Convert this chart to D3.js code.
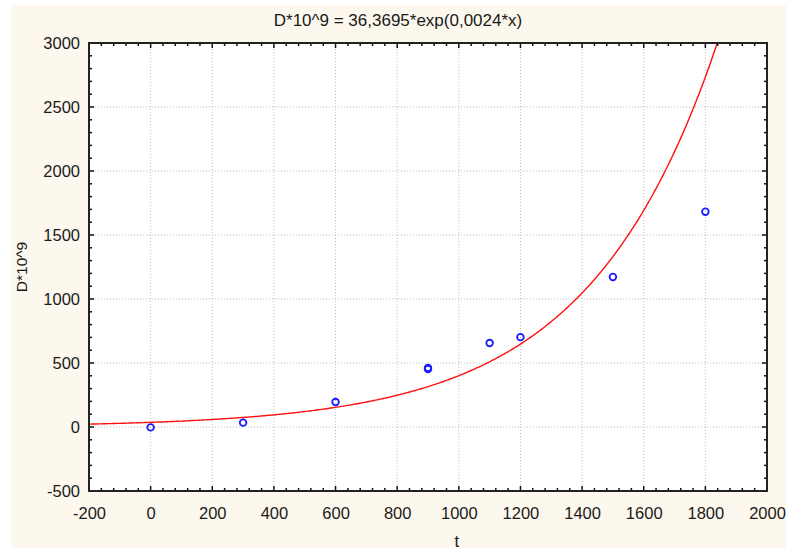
<!DOCTYPE html>
<html>
<head>
<meta charset="utf-8">
<script src="https://cdn.jsdelivr.net/npm/d3@7"></script>
<style>
  html, body { margin: 0; padding: 0; background: #ffffff; }
  svg { display: block; font-family: "Liberation Sans", Arial, sans-serif; }
</style>
</head>
<body>
<div id="chart"></div>
<script>
// observed points (t, D*10^9)
const tValues = [0, 300, 600, 900, 900, 1100, 1200, 1500, 1800];
const dValues = [-3, 34, 195, 452, 462, 656, 702, 1172, 1682];

// fitted model from the title: D*10^9 = a*exp(b*x)
const fitA = 36.3695;
const fitB = 0.0024;

const xTicks = [-200, 0, 200, 400, 600, 800, 1000, 1200, 1400, 1600, 1800, 2000];
const yTicks = [-500, 0, 500, 1000, 1500, 2000, 2500, 3000];

const titleText = 'D*10^9 = 36,3695*exp(0,0024*x)';
const xLabel = 't';
const yLabel = 'D*10^9';

const width = 786, height = 549;
const margin = { top: 43, right: 19, bottom: 58, left: 89 };

const svg = d3.select('#chart').append('svg')
  .attr('width', width)
  .attr('height', height);

// cream panel
svg.append('rect')
  .attr('x', 11).attr('y', 5)
  .attr('width', width - 11).attr('height', 543)
  .attr('fill', '#fdf8ed');

const x = d3.scaleLinear().domain([-200, 2000]).range([margin.left, width - margin.right]);
const y = d3.scaleLinear().domain([-500, 3000]).range([height - margin.bottom, margin.top]);

// plot background
svg.append('rect')
  .attr('x', x(-200)).attr('y', y(3000))
  .attr('width', x(2000) - x(-200)).attr('height', y(-500) - y(3000))
  .attr('fill', '#ffffff');

// dotted grid
const grid = svg.append('g').attr('stroke', '#bdbdbd').attr('stroke-dasharray', '1,2');
grid.selectAll('.gx').data(xTicks.slice(1, -1)).enter().append('line')
  .attr('x1', d => x(d)).attr('x2', d => x(d))
  .attr('y1', y(3000)).attr('y2', y(-500));
grid.selectAll('.gy').data(yTicks.slice(1, -1)).enter().append('line')
  .attr('x1', x(-200)).attr('x2', x(2000))
  .attr('y1', d => y(d)).attr('y2', d => y(d));

// clip for the fitted curve
svg.append('clipPath').attr('id', 'plotClip').append('rect')
  .attr('x', x(-200)).attr('y', y(3000))
  .attr('width', x(2000) - x(-200)).attr('height', y(-500) - y(3000));

const curveX = d3.range(-200, 2001, 5);
const line = d3.line()
  .x(d => x(d))
  .y(d => y(fitA * Math.exp(fitB * d)));

svg.append('path')
  .datum(curveX)
  .attr('clip-path', 'url(#plotClip)')
  .attr('d', line)
  .attr('fill', 'none')
  .attr('stroke', '#ff1010')
  .attr('stroke-width', 1.4);

// points
svg.append('g').selectAll('circle')
  .data(tValues.map((t, i) => ({ t, d: dValues[i] })))
  .enter().append('circle')
  .attr('cx', p => x(p.t))
  .attr('cy', p => y(p.d))
  .attr('r', 3.3)
  .attr('fill', 'none')
  .attr('stroke', '#1a1aff')
  .attr('stroke-width', 1.8);

// axes: labels outside, ticks pointing inward
const xMinor = d3.range(-200, 2001, 40);
const yMinor = d3.range(-500, 3001, 100);
const plainFormat = d => String(d);

const bottomAxis = svg.append('g')
  .attr('transform', `translate(0,${y(-500)})`)
  .call(d3.axisBottom(x).tickValues(xTicks).tickSize(0).tickPadding(16).tickFormat(plainFormat));
const leftAxis = svg.append('g')
  .attr('transform', `translate(${x(-200)},0)`)
  .call(d3.axisLeft(y).tickValues(yTicks).tickSize(0).tickPadding(9).tickFormat(plainFormat));

[bottomAxis, leftAxis].forEach(a => {
  a.select('.domain').remove();
  a.selectAll('text')
    .attr('font-family', '"Liberation Sans", Arial, sans-serif')
    .attr('font-size', 16.5)
    .attr('fill', '#1a1a1a');
});
leftAxis.selectAll('text').attr('dy', '0.36em');

const ticks = svg.append('g').attr('stroke', '#111').attr('stroke-width', 1.5);
// bottom and top
[y(-500), y(3000)].forEach((yy, k) => {
  const dir = k === 0 ? -1 : 1;
  ticks.selectAll(null).data(xMinor).enter().append('line')
    .attr('x1', d => x(d)).attr('x2', d => x(d))
    .attr('y1', yy).attr('y2', d => yy + dir * (xTicks.includes(d) ? 5 : 3));
});
// left and right
[x(-200), x(2000)].forEach((xx, k) => {
  const dir = k === 0 ? 1 : -1;
  ticks.selectAll(null).data(yMinor).enter().append('line')
    .attr('y1', d => y(d)).attr('y2', d => y(d))
    .attr('x1', xx).attr('x2', d => xx + dir * (yTicks.includes(d) ? 5 : 3));
});

// frame
svg.append('rect')
  .attr('x', x(-200)).attr('y', y(3000))
  .attr('width', x(2000) - x(-200)).attr('height', y(-500) - y(3000))
  .attr('fill', 'none')
  .attr('stroke', '#222')
  .attr('stroke-width', 2);

// title and axis titles
svg.append('text')
  .attr('x', 398).attr('y', 26)
  .attr('text-anchor', 'middle')
  .attr('font-size', 17)
  .attr('fill', '#1a1a1a')
  .text(titleText);

svg.append('text')
  .attr('x', x(1000) - 2).attr('y', 547)
  .attr('text-anchor', 'middle')
  .attr('font-size', 16.5)
  .attr('fill', '#1a1a1a')
  .text(xLabel);

svg.append('text')
  .attr('transform', `translate(27,${(y(3000) + y(-500)) / 2}) rotate(-90)`)
  .attr('text-anchor', 'middle')
  .attr('font-size', 15.5)
  .attr('fill', '#1a1a1a')
  .text(yLabel);
</script>
</body>
</html>
